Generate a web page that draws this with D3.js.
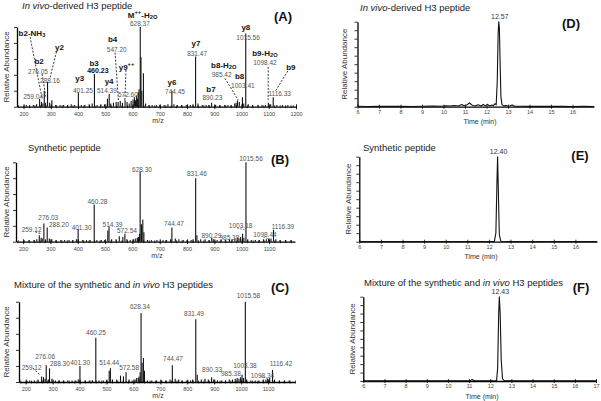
<!DOCTYPE html>
<html><head><meta charset="utf-8">
<script src="https://cdn.jsdelivr.net/npm/d3@7"></script>
<style>body{margin:0;background:#fff}svg{display:block;font-family:"Liberation Sans",Arial,sans-serif}</style>
</head><body><svg id="c" width="601" height="401"></svg>
<script>
// ---------------- DATA ----------------
const mzTicksA = [200,300,400,500,600,700,800,900,1000,1100,1200];
const mzTicksBC = [200,300,400,500,600,700,800,900,1000,1100];
const timeTicksDE = [6,7,8,9,10,11,12,13,14,15,16];
const timeTicksF = [6,7,8,9,10,11,12,13,14,15,16,17];

// Panel A: main labelled peaks
const mzA = [259.04,276.05,288.16,401.25,460.23,514.39,547.20,572.60,628.37,744.45,831.47,890.23,985.42,1003.41,1015.56,1098.42,1116.33];
const abA = [10,20,31,18,41,16,6,8,100,20,63,5,8,12,92,5,12];
const minorA = [[210,2],[222,1.5],[236,2],[248,3],[266,6],[271,4],[281,5],[296,5],[304,8],[318,2],[334,2],[347,2],[362,2],[375,3],[388,2],[412,2],[425,2],[441,3],[452,4],[470,2],[484,3],[497,3],[508,10],[520,4],[530,5],[540,6],[555,7],[563,5],[580,6],[588,4],[595,7],[602,9],[607,12],[611,8],[615,14],[618,10],[621,18],[624,22],[631,62],[634,20],[640,42],[648,4],[660,2],[672,2],[688,2],[700,2],[716,2],[730,3],[752,3],[765,2],[780,2],[797,2],[812,2],[822,3],[840,4],[856,2],[870,2],[880,2],[905,2],[920,2],[938,2],[950,2],[962,2],[975,4],[980,5],[992,6],[1008,4],[1025,3],[1040,2],[1060,2],[1075,2],[1088,2],[1107,3],[1130,2],[1150,2],[1170,2],[1190,1.5]];

// Panel B
const mzB = [259.12,276.03,288.20,401.30,460.28,514.39,572.54,628.30,744.47,831.46,890.29,985.38,1003.18,1015.56,1098.44,1116.39];
const abB = [8,23,18,16,47,19,10,88,18,80,5,5,10,100,4,15];
const minorB = [[205,1.5],[222,2],[240,2],[250,3],[266,5],[270,4],[282,3],[296,4],[305,3],[320,2],[338,2],[352,2],[368,2],[382,2],[395,3],[418,2],[432,2],[445,2],[470,2],[486,2],[498,2],[510,14],[524,3],[540,3],[552,7],[565,6],[580,3],[592,2],[605,3],[612,4],[618,5],[622,6],[626,10],[633,22],[638,28],[642,12],[655,2],[670,2],[690,2],[712,2],[725,2],[740,3],[757,4],[770,3],[786,2],[800,2],[815,2],[822,3],[836,8],[850,3],[866,3],[880,2],[896,3],[910,2],[925,2],[940,2],[955,3],[965,3],[975,4],[990,4],[996,6],[1008,5],[1022,3],[1035,2],[1050,2],[1065,2],[1080,3],[1090,3],[1107,4],[1125,3],[1140,2],[1160,2],[1180,2]];

// Panel C
const mzC = [259.12,276.06,288.30,401.30,460.25,514.44,572.58,628.34,744.47,831.49,890.33,985.38,1003.38,1015.58,1098.34,1116.42];
const abC = [7,21,17,20,55,17,12,86,21,78,6,5,9,100,4,15];
const minorC = [[205,1.5],[215,2],[232,2],[246,3],[266,6],[272,4],[284,3],[297,4],[310,2],[325,2],[340,2],[356,2],[372,2],[386,2],[395,3],[420,2],[436,2],[448,2],[472,2],[488,2],[500,2],[510,14],[522,3],[538,3],[552,8],[563,7],[584,3],[595,2],[606,3],[612,5],[618,5],[621,7],[625,12],[632,24],[637,30],[641,14],[652,2],[668,2],[686,2],[705,2],[720,2],[736,3],[755,4],[768,3],[780,2],[798,2],[812,2],[820,3],[837,9],[852,3],[866,4],[878,3],[898,3],[912,2],[928,2],[942,2],[956,3],[968,3],[978,4],[992,4],[998,6],[1009,5],[1020,3],[1036,2],[1052,2],[1066,2],[1082,3],[1092,3],[1106,5],[1124,3],[1142,2],[1160,2],[1178,2]];

// Annotations (data coordinates: m/z, relative abundance)
const labelsA = [
  {t:"b2-NH_3",mz:231,ab:92.5,b:1},{t:"b2",mz:257,ab:57.3,b:1},{t:"276.05",mz:253,ab:45.2},
  {t:"y2",mz:332,ab:75.3,b:1},{t:"288.16",mz:297,ab:33.5},{t:"259.04",mz:235,ab:13.8},
  {t:"y3",mz:406,ab:35.6,b:1},{t:"401.25",mz:418,ab:21},{t:"b3",mz:459,ab:55.2,b:1},
  {t:"460.23",mz:473,ab:46,b:1},{t:"b4",mz:527,ab:84.6,b:1},{t:"547.20",mz:542,ab:72},
  {t:"y4",mz:514,ab:32.2,b:1},{t:"514.39",mz:506,ab:21},{t:"y9^++",mz:578,ab:50.2,b:1},
  {t:"572.60",mz:583,ab:15.6},{t:"M^++-H_2O",mz:637,ab:115,b:1},{t:"628.37",mz:627,ab:104.6},
  {t:"y6",mz:745,ab:31.4,b:1},{t:"744.45",mz:756,ab:20},{t:"y7",mz:833,ab:79.3,b:1},
  {t:"831.47",mz:837,ab:68},{t:"b7",mz:888,ab:22,b:1},{t:"890.23",mz:893,ab:12},
  {t:"b8-H_2O",mz:935,ab:52.3,b:1},{t:"985.42",mz:927,ab:41},{t:"b8",mz:993,ab:38.5,b:1},
  {t:"1003.41",mz:1005,ab:27.2},{t:"y8",mz:1016,ab:100.4,b:1},{t:"1015.56",mz:1024,ab:87.8},
  {t:"b9-H_2O",mz:1086,ab:67,b:1},{t:"1098.42",mz:1086,ab:56.5},{t:"b9",mz:1181,ab:50.2,b:1},
  {t:"1116.33",mz:1140,ab:17.6}
];
const leadersA = [[224,87.5,267,12.2],[268,41,282,12],[321,69,297,36],[536,67.8,548,8.4],[576,46,572,8.4],[939,35.6,988,8.4],[1098,50,1098,8.4],[1170,44.8,1123,18.8]];

const labelsB = [
  {t:"259.12",mz:231,ab:15.6},{t:"276.03",mz:292,ab:30.7},{t:"288.20",mz:331,ab:21.9},
  {t:"401.30",mz:414,ab:18.9},{t:"460.28",mz:472,ab:51.6},{t:"514.39",mz:527,ab:22.3},
  {t:"572.54",mz:580,ab:14.7},{t:"628.30",mz:635,ab:91.6},{t:"744.47",mz:752,ab:23.2},
  {t:"831.46",mz:836,ab:86.1},{t:"890.29",mz:889,ab:9},{t:"985.38",mz:955,ab:6.5},
  {t:"1003.18",mz:996,ab:21},{t:"1015.56",mz:1034,ab:106},{t:"1098.44",mz:1085,ab:9.7},
  {t:"1116.39",mz:1151,ab:19.8}
];
const leadersB = [[244,12.6,268,9.7]];
const tealB = [[983,17.3,1012,14.7],[1078,5.9,1103,3.4]];

const labelsC = [
  {t:"259.12",mz:222,ab:19},{t:"276.06",mz:272,ab:32.4},{t:"288.30",mz:327,ab:23.3},
  {t:"401.30",mz:402,ab:25.3},{t:"460.25",mz:461,ab:62.6},{t:"514.44",mz:510,ab:25},
  {t:"572.58",mz:584,ab:19},{t:"628.34",mz:624,ab:94.6},{t:"744.47",mz:747,ab:29.5},
  {t:"831.49",mz:825,ab:86.3},{t:"890.33",mz:892,ab:15.8},{t:"985.38",mz:962,ab:10.8},
  {t:"1003.38",mz:1014,ab:21.2},{t:"1015.58",mz:1027,ab:108.3},{t:"1098.34",mz:1079,ab:8.7},
  {t:"1116.42",mz:1148,ab:23.3}
];
const leadersC = [[227,17.4,253,8.7]];
const tealC = [[1072,7.5,1100,4]];

// Chromatograms
const timeD = [6.0,6.5,7.0,7.5,8.0,8.5,9.0,9.5,9.9,10.1,10.3,10.5,10.7,10.85,10.95,11.1,11.2,11.25,11.35,11.5,11.6,11.75,11.85,11.95,12.05,12.15,12.25,12.32,12.4,12.45,12.5,12.54,12.57,12.6,12.63,12.67,12.72,12.8,12.9,13.0,13.1,13.2,13.3,13.6,14.0,14.5,15.0,15.5,16.0,16.5,17.0];
const intD = [0.5,0.3,0.6,0.4,0.5,0.3,0.6,0.8,0.5,1.2,0.8,1.5,0.8,2.5,1.2,2.2,4.5,3.5,1.5,1.0,2.2,0.8,2.5,1.0,2.8,0.8,2.0,1.2,3.5,2.0,30,85,100,92,55,12,2.5,1.0,1.5,0.8,1.2,2.0,0.6,0.5,0.4,0.6,0.4,0.5,0.3,0.4,0.3];
const timeE = [6,8,10,11,12,12.25,12.32,12.37,12.40,12.43,12.48,12.55,13,14,15,16,17];
const intE = [0.2,0.2,0.2,0.3,0.3,0.4,10,70,100,65,8,0.5,0.3,0.2,0.2,0.2,0.2];
const timeF = [6,8,10,11,11.1,11.15,11.2,11.3,12,12.3,12.35,12.4,12.43,12.47,12.52,12.58,12.65,13,14,15,16,17];
const intF = [0.2,0.2,0.2,0.3,1,1.8,0.8,0.3,0.3,0.5,15,80,100,80,25,3,0.6,0.3,0.2,0.2,0.2,0.2];

// ---------------- DRAWING ----------------
const svg = d3.select("#c");

function richText(sel, str){
  const re = /([_^])([^_^\-]+)|([^_^]+?)(?=[_^]|$)/g;
  let m, shift = 0;
  while((m = re.exec(str)) !== null){
    if(m[0]==="") { re.lastIndex++; continue; }
    if(m[1]){
      const target = m[1]==="_" ? 2 : -3;
      sel.append("tspan").attr("dy", target - shift).attr("font-size","0.72em").text(m[2]);
      shift = target;
    } else {
      sel.append("tspan").attr("dy", -shift).text(m[3]);
      shift = 0;
    }
  }
}

function title(g, parts, x, y){
  const t = g.append("text").attr("x",x).attr("y",y).attr("font-size",9.5).attr("fill","#222");
  parts.forEach(p => t.append("tspan").attr("font-style", p[1] ? "italic" : "normal").text(p[0]));
}

function ylabel(g, x, cy){
  g.append("text").attr("transform",`translate(${x},${cy}) rotate(-90)`).attr("text-anchor","middle")
   .attr("dominant-baseline","central").attr("font-size",8).attr("fill","#333").text("Relative Abundance");
}

function styleAxis(gx){
  gx.select(".domain").attr("stroke","#000").attr("stroke-width",1.3);
  gx.selectAll(".tick line").attr("stroke","#000").attr("stroke-width",0.8);
}

function spectrum(o){
  const g = svg.append("g");
  const x = d3.scaleLinear().domain(o.xd).range(o.xr);
  const y = d3.scaleLinear().domain([0,100]).range(o.yr);
  const peaks = o.minor.map(d=>({mz:d[0],ab:d[1]})).concat(o.mz.map((m,i)=>({mz:m,ab:o.ab[i]})));
  g.append("g").selectAll("line").data(peaks).join("line")
    .attr("x1",d=>x(d.mz)).attr("x2",d=>x(d.mz)).attr("y1",y(0)).attr("y2",d=>y(d.ab))
    .attr("stroke","#111").attr("stroke-width",1.1);
  const gy = g.append("g").attr("transform",`translate(${o.xr[0]},0)`)
    .call(d3.axisLeft(y).tickValues([0,20,40,60,80,100]).tickSize(3).tickSizeOuter(0).tickFormat(""));
  styleAxis(gy);
  const gm = g.append("g").attr("transform",`translate(0,${y(0)})`)
    .call(d3.axisBottom(x).tickValues(d3.range(180, o.xd[1]+1, 20)).tickSize(2).tickFormat(""));
  gm.select(".domain").remove();
  gm.selectAll(".tick line").attr("y1",-1.5).attr("y2",1.5).attr("stroke","#000").attr("stroke-width",0.7);
  const gx = g.append("g").attr("transform",`translate(0,${y(0)})`)
    .call(d3.axisBottom(x).tickValues(o.xticks).tickSize(3).tickSizeOuter(0).tickPadding(2.5).tickFormat(d3.format("d")));
  styleAxis(gx);
  gx.selectAll(".tick line").attr("y1",-2.5).attr("y2",2.5);
  gx.selectAll(".tick text").attr("font-size",5.5).attr("fill","#444").attr("font-family",'"Liberation Sans",Arial,sans-serif');
  g.append("text").attr("x",o.xlabX).attr("y",y(0)+16).attr("text-anchor","middle").attr("font-size",7).attr("fill","#333").text("m/z");
  g.append("g").selectAll("line").data(o.leaders).join("line")
    .attr("x1",d=>x(d[0])).attr("y1",d=>y(d[1])).attr("x2",d=>x(d[2])).attr("y2",d=>y(d[3]))
    .attr("stroke","#222").attr("stroke-width",0.9).attr("stroke-dasharray","2,1.5");
  g.append("g").selectAll("line").data(o.teal||[]).join("line")
    .attr("x1",d=>x(d[0])).attr("y1",d=>y(d[1])).attr("x2",d=>x(d[2])).attr("y2",d=>y(d[3]))
    .attr("stroke","#3aa89a").attr("stroke-width",0.9).attr("stroke-dasharray","2,1");
  o.labels.forEach(l=>{
    const t = g.append("text").attr("x",x(l.mz)).attr("y",y(l.ab)).attr("text-anchor","middle")
      .attr("dominant-baseline","central")
      .attr("font-size", l.b ? (l.t.match(/^\d/) ? 7 : 8) : 6.5)
      .attr("font-weight", l.b ? "bold" : "normal")
      .attr("fill", l.b ? "#111" : "#555");
    richText(t, l.t);
  });
  title(g, o.title, o.titleX, o.titleY);
  g.append("text").attr("x",o.tagX).attr("y",o.tagY).attr("text-anchor","middle").attr("dominant-baseline","central")
    .attr("font-size",13).attr("font-weight","bold").attr("fill","#111").text(o.tag);
  ylabel(g, o.ylabX, (o.yr[0]+o.yr[1])/2);
}

function chrom(o){
  const g = svg.append("g");
  const x = d3.scaleLinear().domain([6,17]).range(o.xr);
  const y = d3.scaleLinear().domain([0,100]).range(o.yr);
  const gy = g.append("g").attr("transform",`translate(${o.xr[0]},0)`)
    .call(d3.axisLeft(y).tickValues(d3.range(0,101,10)).tickSize(3).tickSizeOuter(0).tickFormat(""));
  styleAxis(gy);
  const gx = g.append("g").attr("transform",`translate(0,${y(0)})`)
    .call(d3.axisBottom(x).tickValues(o.xticks).tickSize(2).tickSizeOuter(0).tickPadding(1.5).tickFormat(d3.format("d")));
  styleAxis(gx);
  gx.selectAll(".tick line").attr("y1",-2).attr("y2",2);
  gx.selectAll(".tick text").attr("font-size",5.5).attr("fill","#444").attr("font-family",'"Liberation Sans",Arial,sans-serif');
  g.append("text").attr("x",o.xlabX).attr("y",y(0)+17.5).attr("text-anchor","middle").attr("font-size",7).attr("fill","#333").text("Time (min)");
  const line = d3.line().x((d,i)=>x(o.t[i])).y(d=>y(d));
  g.append("path").attr("d", line(o.v)).attr("fill","none").attr("stroke","#111").attr("stroke-width",1.1).attr("stroke-linejoin","round");
  g.append("text").attr("x",x(o.peakT)+1).attr("y",y(100)-2.5).attr("text-anchor","middle").attr("font-size",7).attr("fill","#333").text(o.peakLabel);
  title(g, o.title, o.titleX, o.titleY);
  g.append("text").attr("x",o.tagX).attr("y",o.tagY).attr("text-anchor","middle").attr("dominant-baseline","central")
    .attr("font-size",13).attr("font-weight","bold").attr("fill","#111").text(o.tag);
  ylabel(g, o.ylabX, (o.yr[0]+o.yr[1])/2);
}

spectrum({xd:[176,1200], xr:[17,296], yr:[106.7,27], xticks:mzTicksA, mz:mzA, ab:abA, minor:minorA,
  labels:labelsA, leaders:leadersA, title:[["In vivo",1],["-derived H3 peptide",0]], titleX:22, titleY:8.5,
  tag:"(A)", tagX:283, tagY:16.5, ylabX:6, xlabX:158});
spectrum({xd:[174,1195], xr:[16,295], yr:[241.7,162.3], xticks:mzTicksBC, mz:mzB, ab:abB, minor:minorB,
  labels:labelsB, leaders:leadersB, teal:tealB, title:[["Synthetic peptide",0]], titleX:28, titleY:151,
  tag:"(B)", tagX:280, tagY:159, ylabX:6, xlabX:157});
spectrum({xd:[175,1200], xr:[19,295], yr:[382,301.7], xticks:mzTicksBC, mz:mzC, ab:abC, minor:minorC,
  labels:labelsC, leaders:leadersC, teal:tealC, title:[["Mixture of the synthetic and ",0],["in vivo",1],[" H3 peptides",0]], titleX:14, titleY:288,
  tag:"(C)", tagX:280, tagY:287, ylabX:6, xlabX:158});

chrom({xr:[357.5,594], yr:[106.7,21.7], xticks:timeTicksDE, t:timeD, v:intD, peakT:12.57, peakLabel:"12.57",
  title:[["In vivo",1],["-derived H3  peptide",0]], titleX:360, titleY:11, tag:"(D)", tagX:571, tagY:23, ylabX:344, xlabX:480});
chrom({xr:[359.3,597], yr:[241.7,156.7], xticks:timeTicksDE, t:timeE, v:intE, peakT:12.40, peakLabel:"12.40",
  title:[["Synthetic peptide",0]], titleX:363, titleY:151, tag:"(E)", tagX:580, tagY:155, ylabX:348, xlabX:481});
chrom({xr:[363.3,596], yr:[381,296.7], xticks:timeTicksF, t:timeF, v:intF, peakT:12.43, peakLabel:"12.43",
  title:[["Mixture of the synthetic and ",0],["in vivo",1],[" H3 peptides",0]], titleX:364, titleY:286, tag:"(F)", tagX:581, tagY:287, ylabX:352, xlabX:482});
</script>
</body></html>
